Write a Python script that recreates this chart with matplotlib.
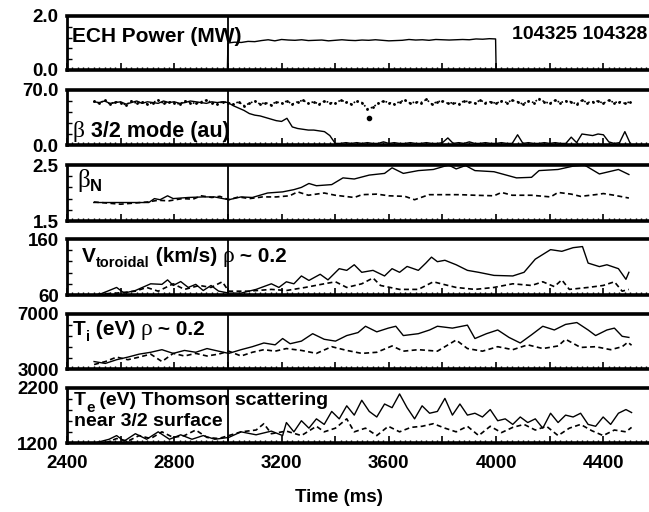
import numpy as np
import matplotlib
matplotlib.use("Agg")
import matplotlib.pyplot as plt
from matplotlib.transforms import offset_copy
from matplotlib.ticker import MultipleLocator, FixedLocator

# ---------------- data ----------------
shots = "104325 104328"

# ECH power (MW), shot 104325
ech_t = [2400, 2998, 3000, 3025, 3050, 3075, 3100, 3125, 3150, 3175, 3200, 3225, 3250, 3275, 3300,
         3325, 3350, 3375, 3400, 3425, 3450, 3475, 3500, 3525, 3550, 3575, 3600, 3625, 3650, 3675,
         3700, 3725, 3750, 3775, 3800, 3825, 3850, 3875, 3900, 3925, 3950, 3975, 3998, 4000, 4500]
ech_v = [0.0, 0.0, 1.00, 1.03, 1.02, 1.06, 1.05, 1.09, 1.12, 1.08, 1.13, 1.11, 1.10, 1.12, 1.09,
         1.10, 1.11, 1.08, 1.10, 1.12, 1.10, 1.09, 1.11, 1.10, 1.12, 1.10, 1.08, 1.09, 1.10, 1.13,
         1.11, 1.12, 1.10, 1.13, 1.12, 1.11, 1.12, 1.13, 1.12, 1.15, 1.14, 1.16, 1.15, 0.0, 0.0]

# 3/2 mode amplitude (au), sampled every 20 ms from 2500 to 4500
mode_t = np.arange(2500, 4501, 20)
mode_a = [55, 54, 56, 53, 54, 55, 52, 54, 56, 53, 55, 54, 53, 56, 54, 55, 53, 54, 56, 55, 54, 53, 55, 54, 55,
          54, 50, 47, 44, 40, 38, 37, 35, 33, 31, 30, 34, 23, 21, 20, 19, 19, 18, 17, 12, 2, 2, 3, 2, 3,
          2, 3, 2, 2, 4, 2, 3, 2, 2, 3, 2, 2, 3, 2, 2, 3, 9, 2, 3, 2, 4, 2, 2, 3, 2,
          2, 3, 2, 2, 13, 2, 3, 2, 2, 3, 2, 3, 2, 2, 10, 3, 14, 13, 12, 14, 13, 4, 2, 3, 17,
          2]
mode_b = [56, 53, 57, 52, 55, 54, 51, 56, 53, 55, 52, 54, 57, 53, 55, 54, 52, 56, 54, 53, 55, 57, 54, 52, 55,
          54, 52, 55, 50, 53, 56, 52, 54, 51, 55, 53, 56, 52, 55, 57, 53, 55, 52, 56, 54, 53, 57, 55, 52, 56,
          54, 46, 48, 53, 56, 54, 52, 55, 57, 53, 55, 54, 58, 52, 55, 56, 53, 54, 52, 56, 55, 53, 57, 54, 55,
          53, 56, 54, 57, 55, 52, 56, 54, 59, 55, 53, 57, 54, 56, 55, 52, 57, 54, 55, 56, 53, 57, 54, 55, 53,
          55]
mode_out_t = [3527]
mode_out_v = [35]

# beta_N
bn_a_t = [2500, 2705, 2726, 2747, 2775, 2796, 2852, 2908, 2950, 3003, 3049, 3091, 3148, 3204, 3246, 3274,
          3302, 3330, 3387, 3429, 3471, 3527, 3584, 3612, 3654, 3710, 3766, 3823, 3851, 3886, 3921, 3992,
          4076, 4132, 4160, 4231, 4287, 4329, 4385, 4456, 4495]
bn_a_v = [1.83, 1.83, 1.90, 1.88, 1.95, 1.90, 1.92, 1.93, 1.93, 1.88, 1.93, 1.92, 2.00, 2.02, 2.06, 2.10,
          2.17, 2.13, 2.15, 2.27, 2.25, 2.32, 2.35, 2.45, 2.35, 2.40, 2.42, 2.50, 2.43, 2.49, 2.40, 2.38,
          2.27, 2.28, 2.40, 2.42, 2.48, 2.50, 2.34, 2.42, 2.33]
bn_b_t = [2500, 2550, 2600, 2650, 2700, 2740, 2780, 2830, 2870, 2900, 2940, 2970, 3003, 3040, 3080, 3130,
          3180, 3230, 3260, 3300, 3359, 3400, 3471, 3500, 3555, 3600, 3660, 3696, 3750, 3800, 3865, 3921,
          3992, 4020, 4060, 4132, 4203, 4231, 4280, 4315, 4370, 4400, 4440, 4495]
bn_b_v = [1.84, 1.82, 1.80, 1.82, 1.84, 1.87, 1.86, 1.90, 1.89, 1.95, 1.92, 1.94, 1.88, 1.93, 1.90, 1.93,
          1.93, 1.95, 2.02, 1.96, 2.00, 1.96, 1.92, 1.97, 1.98, 1.95, 1.94, 1.88, 1.97, 1.97, 1.97, 1.96,
          1.95, 2.01, 1.96, 1.96, 1.93, 2.01, 1.98, 1.94, 1.97, 1.99, 1.96, 1.91]

# toroidal velocity (km/s)
vt_a_t = [2515, 2557, 2585, 2613, 2655, 2712, 2754, 2775, 2796, 2824, 2852, 2880, 2908, 2937, 2965, 3003,
          3049, 3105, 3162, 3190, 3218, 3246, 3274, 3302, 3344, 3373, 3415, 3443, 3471, 3499, 3541, 3584,
          3612, 3640, 3668, 3710, 3738, 3759, 3781, 3809, 3851, 3893, 3935, 3992, 4062, 4104, 4146, 4203,
          4245, 4287, 4322, 4343, 4385, 4413, 4456, 4484, 4495]
vt_a_v = [60, 68, 73.5, 63.4, 68, 80, 79, 87, 77, 84, 73.5, 79, 68, 77, 67, 63.4,
          63.4, 70, 80, 73.5, 83.6, 80, 94, 86, 97, 87, 107, 104, 114, 100.5, 104, 94,
          107, 100.5, 111, 104, 117, 127.6, 119.5, 122, 114, 104, 100.5, 95, 94, 100.5, 124, 141,
          138, 144.5, 146.5, 117, 110.7, 114, 107, 88, 100.5]
vt_b_t = [2515, 2585, 2655, 2697, 2740, 2796, 2838, 2894, 2937, 2979, 3003, 3077, 3162, 3218, 3288, 3359,
          3401, 3443, 3499, 3541, 3569, 3640, 3710, 3766, 3795, 3851, 3921, 3992, 4062, 4132, 4174, 4217,
          4245, 4273, 4343, 4399, 4441, 4470, 4495]
vt_b_v = [61.4, 63.4, 66.8, 73.5, 66.8, 80, 70, 77, 73.5, 83.6, 66.8, 66.8, 70, 68, 73.5, 80,
          83.6, 73.5, 80, 90.4, 77, 70, 70, 83.6, 80, 73.5, 70, 73.5, 80, 77, 83.6, 75,
          87, 70, 73.5, 77, 83.6, 66.8, 70]

# ion temperature (eV)
ti_a_t = [2501, 2543, 2585, 2627, 2669, 2712, 2754, 2796, 2838, 2880, 2922, 2965, 3003, 3049, 3091, 3134,
          3176, 3204, 3232, 3274, 3316, 3359, 3401, 3443, 3485, 3513, 3555, 3598, 3626, 3654, 3710, 3752,
          3781, 3837, 3893, 3921, 3964, 4006, 4048, 4090, 4132, 4174, 4217, 4259, 4301, 4343, 4371, 4413,
          4441, 4470, 4495]
ti_a_v = [3541, 3405, 3676, 3865, 4081, 4216, 4405, 4135, 4351, 4216, 4487, 4297, 4135, 4405, 4622, 4892,
          4757, 5216, 4838, 5027, 5568, 5162, 5027, 5432, 5649, 6108, 5703, 5973, 6108, 5432, 5568, 5838,
          6108, 5973, 6189, 5216, 5568, 5838, 5297, 4892, 5487, 6108, 5838, 6243, 6378, 5838, 5432, 5838,
          5973, 5378, 5297]
ti_b_t = [2501, 2543, 2585, 2627, 2669, 2712, 2754, 2796, 2838, 2880, 2922, 2965, 3003, 3049, 3091, 3134,
          3176, 3218, 3274, 3330, 3387, 3443, 3499, 3555, 3612, 3654, 3710, 3781, 3851, 3893, 3949, 4006,
          4062, 4118, 4174, 4231, 4259, 4315, 4371, 4427, 4470, 4491, 4505]
ti_b_v = [3324, 3541, 3865, 3676, 3865, 4081, 3541, 4135, 3946, 4135, 3946, 4081, 4297, 3946, 4216, 4405,
          4297, 4487, 4351, 4135, 4622, 4351, 4135, 4216, 4676, 4297, 4405, 4297, 5108, 4487, 4297, 4622,
          4405, 4757, 4487, 4676, 5162, 4568, 4622, 4405, 4622, 4946, 4730]

# electron temperature (eV), Thomson scattering
te_a_t = [2515, 2557, 2585, 2613, 2655, 2697, 2740, 2782, 2824, 2866, 2908, 2951, 3003, 3049, 3105, 3162,
          3204, 3218, 3246, 3274, 3302, 3330, 3359, 3387, 3415, 3443, 3471, 3499, 3527, 3555, 3584, 3612,
          3640, 3668, 3696, 3724, 3752, 3781, 3809, 3837, 3865, 3893, 3921, 3949, 3978, 4006, 4034, 4062,
          4090, 4118, 4146, 4174, 4203, 4231, 4259, 4287, 4315, 4343, 4371, 4399, 4427, 4456, 4484, 4505]
te_a_v = [1214, 1268, 1335, 1234, 1369, 1268, 1403, 1268, 1349, 1268, 1335, 1268, 1301, 1403, 1349, 1416,
          1335, 1572, 1403, 1605, 1470, 1639, 1538, 1774, 1639, 1876, 1707, 1977, 1774, 1673, 1909, 1842,
          2092, 1842, 1639, 1876, 1741, 1774, 2011, 1707, 1909, 1707, 1741, 1673, 1808, 1605, 1639, 1538,
          1673, 1572, 1639, 1470, 1741, 1572, 1707, 1673, 1741, 1538, 1504, 1673, 1538, 1741, 1808, 1754]
te_b_t = [2543, 2585, 2627, 2669, 2712, 2754, 2796, 2838, 2880, 2922, 2965, 3003, 3049, 3105, 3134, 3162,
          3218, 3274, 3330, 3359, 3401, 3443, 3471, 3513, 3555, 3598, 3640, 3682, 3724, 3766, 3809, 3851,
          3893, 3935, 3978, 4020, 4062, 4104, 4146, 4188, 4231, 4273, 4315, 4357, 4399, 4441, 4484, 4505]
te_b_v = [1200, 1281, 1234, 1335, 1281, 1403, 1301, 1335, 1436, 1301, 1281, 1335, 1403, 1436, 1551, 1369,
          1416, 1335, 1504, 1403, 1470, 1639, 1403, 1470, 1335, 1504, 1403, 1484, 1504, 1551, 1470, 1403,
          1504, 1335, 1504, 1389, 1484, 1538, 1436, 1504, 1335, 1470, 1538, 1423, 1335, 1436, 1403, 1484]

ylims = [(0.0, 2.0), (0.0, 70.0), (1.5, 2.5), (60, 160), (3000, 7000), (1200, 2200)]
ylabels = [("2.0", "0.0"), ("70.0", "0.0"), ("2.5", "1.5"), ("160", "60"), ("7000", "3000"), ("2200", "1200")]
xmajor = [2400, 2600, 2800, 3000, 3200, 3400, 3600, 3800, 4000, 4200, 4400]
xlabels = ["2400", "", "2800", "", "3200", "", "3600", "", "4000", "", "4400"]
ech_on = 3000

# ---------------- figure ----------------
SANS = "Liberation Sans"
SERIF = "Liberation Serif"
plt.rcParams["font.family"] = SANS
plt.rcParams["font.weight"] = "bold"

fig = plt.figure(figsize=(6.49, 5.12), dpi=100)
W, H = 649.0, 512.0
panel_px = [(16, 70), (90, 145), (165, 221), (239, 295), (314, 369), (388, 443)]
left_px = 67
axes = []
for (top, bot) in panel_px:
    ax = fig.add_axes([left_px / W, 1 - bot / H, 1 - left_px / W, (bot - top) / H])
    axes.append(ax)

for i, ax in enumerate(axes):
    ax.set_xlim(2400, 4570)
    ax.set_ylim(*ylims[i])
    ax.spines["right"].set_visible(False)
    ax.spines["top"].set_linewidth(2.6)
    ax.spines["bottom"].set_linewidth(2.6)
    ax.spines["left"].set_linewidth(2.0)
    ax.xaxis.set_major_locator(FixedLocator(xmajor))
    ax.xaxis.set_minor_locator(MultipleLocator(20))
    ax.tick_params(axis="x", which="major", direction="in", length=5, width=1.2, top=False)
    ax.tick_params(axis="x", which="minor", direction="in", length=2.5, width=1.0, top=False)
    lo, hi = ylims[i]
    ax.yaxis.set_major_locator(FixedLocator([lo, hi]))
    ax.set_yticklabels(list(reversed(ylabels[i])))
    step = (hi - lo) / 5
    ax.yaxis.set_minor_locator(FixedLocator([lo + step * k for k in range(1, 5)]))
    ax.tick_params(axis="y", which="major", direction="in", length=0, pad=6,
                   labelsize=13.5)
    ax.tick_params(axis="y", which="minor", direction="in", length=3.5, width=1.0)
    if i < 5:
        ax.set_xticklabels([])
    else:
        ax.set_xticklabels(xlabels)
        ax.tick_params(axis="x", which="major", pad=9, labelsize=13.5)
    ax.axvline(ech_on, color="black", lw=1.3, zorder=3)

lw = 1.0
axes[0].plot(ech_t, ech_v, color="black", lw=lw)
axes[1].plot(mode_t, mode_b, color="black", lw=1.2, ls=(0, (1, 1.5)), marker=".", ms=2)
axes[1].plot(mode_t, mode_a, color="black", lw=lw)
axes[1].plot(mode_out_t, mode_out_v, color="black", marker="o", ms=3, ls="none")
axes[2].plot(bn_a_t, bn_a_v, color="black", lw=lw)
axes[2].plot(bn_b_t, bn_b_v, color="black", lw=1.2, ls=(0, (3, 2)))
axes[3].plot(vt_a_t, vt_a_v, color="black", lw=lw)
axes[3].plot(vt_b_t, vt_b_v, color="black", lw=1.2, ls=(0, (3, 2)))
axes[4].plot(ti_a_t, ti_a_v, color="black", lw=lw)
axes[4].plot(ti_b_t, ti_b_v, color="black", lw=1.2, ls=(0, (3, 2)))
axes[5].plot(te_a_t, te_a_v, color="black", lw=lw)
axes[5].plot(te_b_t, te_b_v, color="black", lw=1.2, ls=(0, (3, 2)))

fig.text(339 / W, 1 - 497 / H, "Time (ms)", ha="center", va="center", fontsize=13.5, fontweight="bold")

renderer = fig.canvas.get_renderer()


def rich(ax, x, y, parts):
    off = 0.0
    for s, size, fam, weight, dy in parts:
        tr = offset_copy(ax.transAxes, fig=fig, x=off, y=dy, units="dots")
        t = ax.text(x, y, s, transform=tr, ha="left", va="baseline", fontsize=size,
                    family=fam, fontweight=weight, zorder=5)
        off += t.get_window_extent(renderer).width


axes[0].text(0.008, 0.52, "ECH Power (MW)", transform=axes[0].transAxes, ha="left", va="baseline",
             fontsize=15, fontweight="bold")
axes[0].text(0.997, 0.57, shots, transform=axes[0].transAxes, ha="right", va="baseline",
             fontsize=14, fontweight="bold")

rich(axes[1], 0.010, 0.15, [("\u03b2", 17, SERIF, "normal", 0), (" 3/2 mode (au)", 15.5, SANS, "bold", 0)])
rich(axes[2], 0.017, 0.60, [("\u03b2", 18, SERIF, "normal", 0), ("N", 12, SANS, "bold", -4)])
rich(axes[3], 0.026, 0.59, [("V", 15, SANS, "bold", 0), ("toroidal", 10.5, SANS, "bold", -5),
                            (" (km/s) ", 15, SANS, "bold", 0), ("\u03c1", 17, SERIF, "normal", 0),
                            (" ~ 0.2", 15, SANS, "bold", 0)])
rich(axes[4], 0.010, 0.62, [("T", 15, SANS, "bold", 0), ("i", 10.5, SANS, "bold", -6),
                            (" (eV) ", 15, SANS, "bold", 0), ("\u03c1", 17, SERIF, "normal", 0),
                            (" ~ 0.2", 15, SANS, "bold", 0)])
rich(axes[5], 0.012, 0.69, [("T", 14, SANS, "bold", 0), ("e", 11, SANS, "bold", -7),
                            (" (eV) Thomson scattering", 14, SANS, "bold", 0)])
axes[5].text(0.012, 0.31, "near 3/2 surface", transform=axes[5].transAxes, ha="left", va="baseline",
             fontsize=14, fontweight="bold")

fig.savefig("out.png", dpi=100)
